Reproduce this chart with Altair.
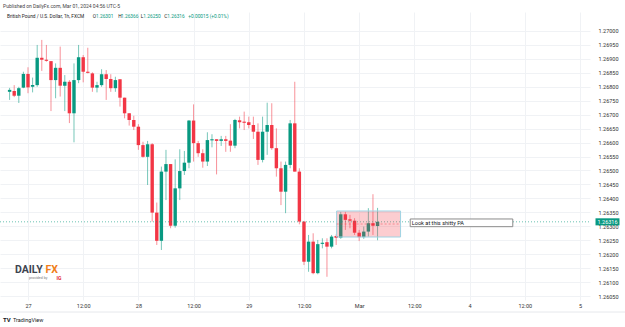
import altair as alt
import pandas as pd

GREEN = "#089981"
RED = "#F23645"
FONT = "Roboto"

# hourly candles, Feb 26 20:00 -> Mar 01 04:00 (index on a gap-free time axis)
opens = [1.26782, 1.26785, 1.26768, 1.26797, 1.26846, 1.26800, 1.26806, 1.26904, 1.26897, 1.26892,
         1.26824, 1.26868, 1.26804, 1.26818, 1.26705, 1.26824, 1.26906, 1.26854, 1.26848, 1.26797,
         1.26806, 1.26845, 1.26828, 1.26795, 1.26827, 1.26761, 1.26705, 1.26681, 1.26657, 1.26591,
         1.26549, 1.26594, 1.26349, 1.26248, 1.26496, 1.26523, 1.26302, 1.26436, 1.26498, 1.26528,
         1.26679, 1.26598, 1.26562, 1.26532, 1.26608, 1.26612, 1.26606, 1.26612, 1.26607, 1.26589,
         1.26680, 1.26675, 1.26673, 1.26663, 1.26639, 1.26538, 1.26639, 1.26663, 1.26580, 1.26508,
         1.26424, 1.26520, 1.26669, 1.26496, 1.26317, 1.26173, 1.26245, 1.26132, 1.26237, 1.26243,
         1.26227, 1.26265, 1.26259, 1.26343, 1.26325, 1.26320, 1.26277, 1.26261, 1.26281, 1.26311,
         1.26301]
closes = [1.26789, 1.26768, 1.26795, 1.26846, 1.26798, 1.26806, 1.26904, 1.26897, 1.26894, 1.26824,
          1.26868, 1.26804, 1.26818, 1.26705, 1.26824, 1.26906, 1.26854, 1.26851, 1.26797, 1.26806,
          1.26845, 1.26828, 1.26795, 1.26824, 1.26761, 1.26705, 1.26681, 1.26657, 1.26591, 1.26549,
          1.26594, 1.26349, 1.26248, 1.26496, 1.26523, 1.26302, 1.26436, 1.26498, 1.26528, 1.26679,
          1.26598, 1.26562, 1.26532, 1.26609, 1.26612, 1.26606, 1.26612, 1.26606, 1.26589, 1.26681,
          1.26673, 1.26673, 1.26663, 1.26639, 1.26538, 1.26639, 1.26663, 1.26580, 1.26508, 1.26424,
          1.26520, 1.26669, 1.26496, 1.26317, 1.26173, 1.26245, 1.26132, 1.26236, 1.26241, 1.26227,
          1.26263, 1.26259, 1.26343, 1.26323, 1.26320, 1.26277, 1.26261, 1.26281, 1.26311, 1.26302,
          1.26316]
highs = [1.26796, 1.26806, 1.26800, 1.26854, 1.26870, 1.26833, 1.26950, 1.26968, 1.26950, 1.26892,
         1.26884, 1.26944, 1.26842, 1.26824, 1.26884, 1.26950, 1.26914, 1.26940, 1.26852, 1.26818,
         1.26863, 1.26860, 1.26845, 1.26836, 1.26827, 1.26761, 1.26705, 1.26696, 1.26666, 1.26603,
         1.26606, 1.26598, 1.26385, 1.26514, 1.26574, 1.26523, 1.26540, 1.26576, 1.26570, 1.26681,
         1.26737, 1.26606, 1.26576, 1.26637, 1.26630, 1.26612, 1.26624, 1.26624, 1.26666, 1.26685,
         1.26693, 1.26711, 1.26693, 1.26693, 1.26669, 1.26693, 1.26743, 1.26741, 1.26651, 1.26532,
         1.26532, 1.26681, 1.26818, 1.26508, 1.26317, 1.26269, 1.26275, 1.26251, 1.26257, 1.26257,
         1.26269, 1.26271, 1.26352, 1.26352, 1.26341, 1.26329, 1.26287, 1.26299, 1.26365, 1.26415,
         1.26366]
lows = [1.26753, 1.26763, 1.26742, 1.26795, 1.26777, 1.26780, 1.26800, 1.26857, 1.26890, 1.26713,
        1.26759, 1.26765, 1.26713, 1.26670, 1.26601, 1.26813, 1.26816, 1.26848, 1.26782, 1.26780,
        1.26800, 1.26753, 1.26782, 1.26782, 1.26729, 1.26687, 1.26661, 1.26645, 1.26574, 1.26546,
        1.26448, 1.26317, 1.26233, 1.26215, 1.26394, 1.26293, 1.26295, 1.26394, 1.26484, 1.26508,
        1.26532, 1.26549, 1.26510, 1.26516, 1.26583, 1.26486, 1.26588, 1.26567, 1.26567, 1.26580,
        1.26651, 1.26645, 1.26651, 1.26613, 1.26520, 1.26529, 1.26556, 1.26574, 1.26478, 1.26376,
        1.26347, 1.26508, 1.26496, 1.26307, 1.26161, 1.26137, 1.26128, 1.26128, 1.26221, 1.26119,
        1.26221, 1.26233, 1.26255, 1.26287, 1.26293, 1.26269, 1.26247, 1.26255, 1.26263, 1.26269,
        1.26250]
bar_index = list(range(len(opens)))

time_tick_index = [4, 16, 28, 40, 52, 64, 76, 88, 100, 112, 124]
time_tick_labels = ["27", "12:00", "28", "12:00", "29", "12:00", "Mar", "12:00", "4", "12:00", "5"]
price_ticks = [1.2605, 1.2610, 1.2615, 1.2620, 1.2625, 1.2630, 1.2635, 1.2640, 1.2645, 1.2650,
               1.2655, 1.2660, 1.2665, 1.2670, 1.2675, 1.2680, 1.2685, 1.2690, 1.2695, 1.2700]
last_price = [1.26316]

# drawings
box_index = [71.1, 85.0]
box_price = [1.263548, 1.262616]
note_index = [87.1, 109.4]
note_price = [1.263262, 1.262986]
note_text = ["Look at this shitty PA"]

df = pd.DataFrame({"i": bar_index, "o": opens, "h": highs, "l": lows, "c": closes})

label_arr = "[" + ",".join("'" + s + "'" for s in time_tick_labels) + "]"
xscale = alt.Scale(domain=[-1.0, 125.1], nice=False, zero=False)
yscale = alt.Scale(domain=[1.260358, 1.270681], nice=False, zero=False)

xaxis = alt.Axis(values=time_tick_index, labelExpr=label_arr + "[round((datum.value-4)/12)]",
                 title=None, domain=False, ticks=False, labelPadding=3, labelFontSize=5.5,
                 labelFont=FONT, labelColor="#333", grid=True, gridColor="#f0f2f5",
                 labelFlush=False, labelOverlap=False)
yaxis = alt.Axis(values=price_ticks, format=".5f", orient="right", title=None, domain=False,
                 ticks=False, labelPadding=8, labelFontSize=5.5, labelFont=FONT, labelColor="#333",
                 grid=True, gridColor="#f0f2f5", labelFlush=False, labelOverlap=False,
                 tickCount=20)


def X(field):
    return alt.X(field, scale=xscale, axis=xaxis)


def Y(field):
    return alt.Y(field, scale=yscale, axis=yaxis)


color = alt.condition("datum.c >= datum.o", alt.value(GREEN), alt.value(RED))

base = alt.Chart(df)
wicks = base.mark_rule(strokeWidth=1, opacity=0.55).encode(
    x=X("i:Q"), y=Y("l:Q"), y2="h:Q", color=color)
bodies = base.transform_calculate(
    top="max(datum.o, datum.c)", bot="min(datum.o, datum.c)"
).transform_calculate(
    bot2="datum.top - datum.bot < 0.00004 ? datum.top - 0.00004 : datum.bot"
).mark_bar(size=3.4).encode(x=X("i:Q"), y=Y("top:Q"), y2="bot2:Q", color=color)

lp = pd.DataFrame({"p": last_price})
price_line = alt.Chart(lp).mark_rule(color=GREEN, strokeDash=[1, 2], opacity=0.6, strokeWidth=1).encode(
    y=Y("p:Q"), x=alt.value(0), x2=alt.value(590))
price_box = alt.Chart(lp).mark_point(shape="M-1.7,-0.5H1.7V0.5H-1.7Z", size=199, filled=True,
                                     opacity=1, color=GREEN).encode(
    y=Y("p:Q"), x=alt.value(607.5))
price_txt = alt.Chart(lp).mark_text(color="white", fontSize=5.5, font=FONT, align="center",
                                    baseline="middle").encode(
    y=Y("p:Q"), x=alt.value(607.5), text=alt.Text("p:Q", format=".5f"))

bx = pd.DataFrame({"x1": [box_index[0]], "x2": [box_index[1]], "y1": [box_price[0]], "y2": [box_price[1]]})
box = alt.Chart(bx).mark_rect(fill=RED, fillOpacity=0.25, stroke="#9fd3e3", strokeWidth=1).encode(
    x=X("x1:Q"), x2="x2:Q", y=Y("y1:Q"), y2="y2:Q")
box_mid = alt.Chart(bx).transform_calculate(ym="(datum.y1 + datum.y2) / 2").mark_rule(
    color=RED, opacity=0.45, strokeDash=[2, 2], strokeWidth=1).encode(
    x=X("x1:Q"), x2="x2:Q", y=Y("ym:Q"))

nt = pd.DataFrame({"x1": [note_index[0]], "x2": [note_index[1]], "y1": [note_price[0]],
                   "y2": [note_price[1]], "t": note_text})
note_box = alt.Chart(nt).mark_rect(fill="white", stroke="#8a8a8a", strokeWidth=1).encode(
    x=X("x1:Q"), x2="x2:Q", y=Y("y1:Q"), y2="y2:Q")
note_txt = alt.Chart(nt).transform_calculate(ym="(datum.y1 + datum.y2) / 2").mark_text(
    align="left", baseline="middle", fontSize=5.6, font=FONT, color="#131722", dx=1.5).encode(
    x=X("x1:Q"), y=Y("ym:Q"), text="t:N")

one = pd.DataFrame({"a": [0]})


def label(text, x, y, size, color="#131722", weight="normal", align="left"):
    return alt.Chart(one).mark_text(text=text, fontSize=size, font=FONT, color=color,
                                    fontWeight=weight, align=align, baseline="middle").encode(
        x=alt.value(x), y=alt.value(y))


texts = [
    label("Published on DailyFx.com, Mar 01, 2024 04:56 UTC-5", 3, -6.3, 5, "#444"),
    label("British Pound / U.S. Dollar, 1h, FXCM", 7, 4.7, 4.8, "#222"),
    label("O", 92.7, 4.7, 4.8, "#222"),
    label("1.26301", 96, 4.7, 4.8, GREEN),
    label("H", 118.3, 4.7, 4.8, "#222"),
    label("1.26366", 121, 4.7, 4.8, GREEN),
    label("L", 140.7, 4.7, 4.8, "#222"),
    label("1.26250", 143.3, 4.7, 4.8, GREEN),
    label("C", 164.3, 4.7, 4.8, "#222"),
    label("1.26316", 167.3, 4.7, 4.8, GREEN),
    label("+0.00015 (+0.01%)", 188.3, 4.7, 4.8, GREEN),
    label("DAILY", 15, 258, 10.5, "#3d4450", "bold"),
    label("FX", 45.5, 258, 10.5, "#f07d1a", "bold"),
    label("provided by", 29, 266.3, 3.6, "#777"),
    label("IG", 56.5, 266.3, 5, "#e3262f", "bold"),
    label("TV", 3, 308, 6, "#131722", "bold"),
    label("TradingView", 13, 308, 5.5, "#131722"),
]

frame_bottom = alt.Chart(one).mark_rule(color="#e6e8ec", strokeWidth=1).encode(
    x=alt.value(0), x2=alt.value(625), y=alt.value(300))

chart = alt.layer(
    wicks, bodies, price_line, box, box_mid, note_box, note_txt, price_box, price_txt,
    frame_bottom, *texts
).properties(
    width=590, height=288,
    autosize=alt.AutoSizeParams(type="none"),
    padding={"left": 0, "top": 12, "right": 35, "bottom": 27},
    background="white",
).configure_view(strokeWidth=0)

chart.save("out.html", embed_options={"renderer": "svg", "actions": False})
